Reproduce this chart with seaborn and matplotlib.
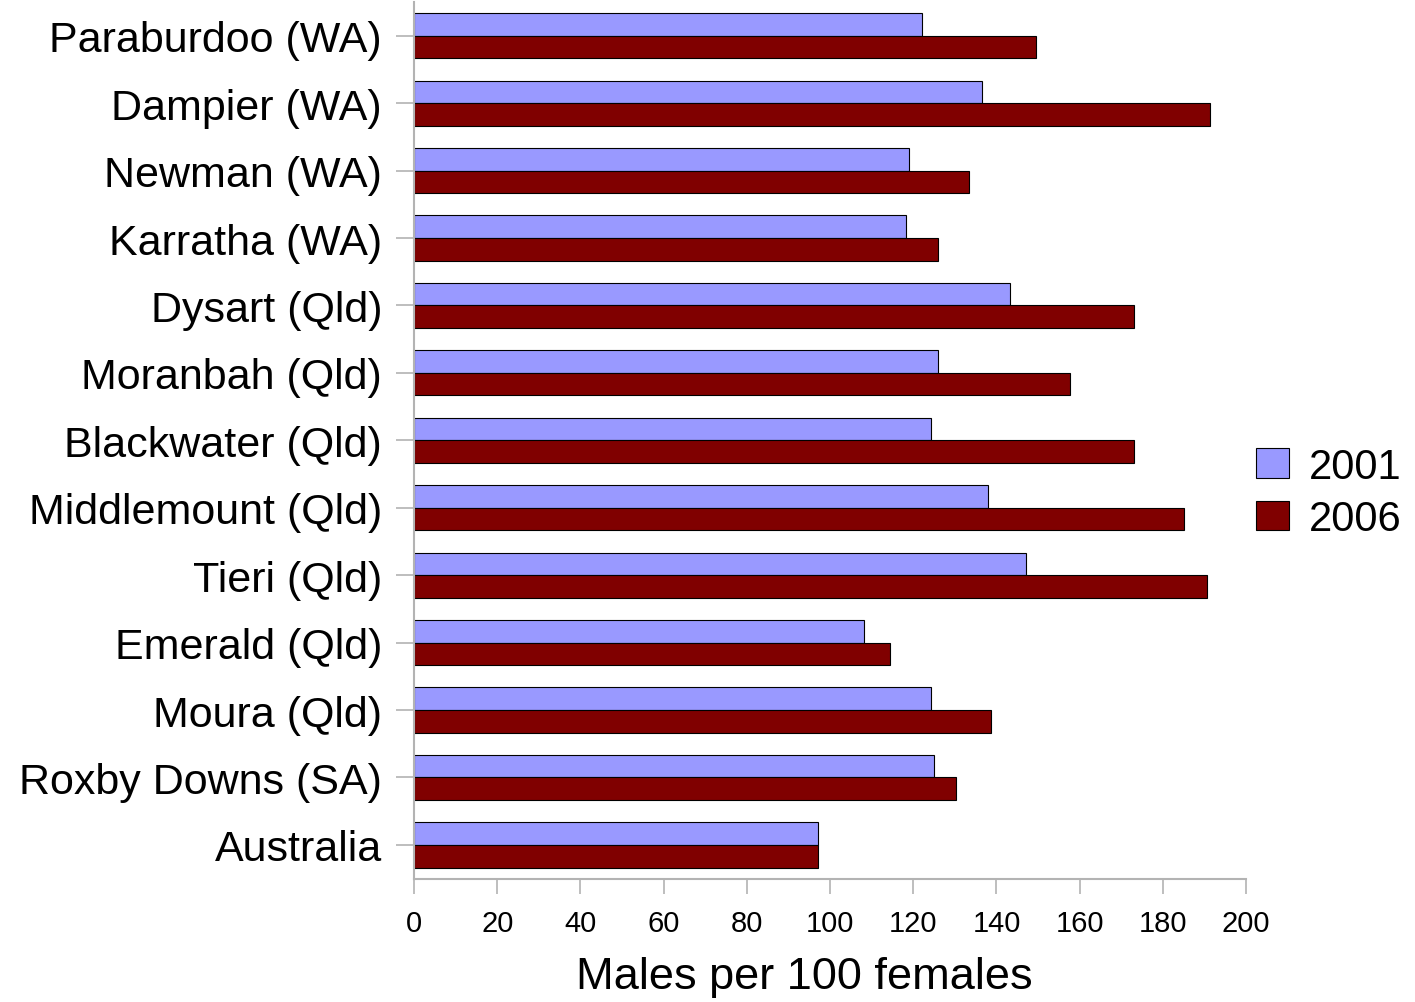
import pandas as pd
import matplotlib.pyplot as plt
import seaborn as sns

towns = ["Paraburdoo (WA)", "Dampier (WA)", "Newman (WA)", "Karratha (WA)",
         "Dysart (Qld)", "Moranbah (Qld)", "Blackwater (Qld)", "Middlemount (Qld)",
         "Tieri (Qld)", "Emerald (Qld)", "Moura (Qld)", "Roxby Downs (SA)", "Australia"]
ratio_2001 = [122, 136.5, 119, 118.3, 143.3, 126, 124.3, 138, 147, 108.2, 124.3, 125, 97]
ratio_2006 = [149.5, 191.3, 133.4, 126, 173, 157.7, 173, 185, 190.5, 114.4, 138.7, 130.3, 97]
years = ["2001", "2006"]

df = pd.DataFrame({
    "town": towns * 2,
    "ratio": ratio_2001 + ratio_2006,
    "year": [years[0]] * len(towns) + [years[1]] * len(towns),
})

sns.set_style("white", rc={"text.color": "black", "axes.labelcolor": "black"})
plt.rcParams['font.family'] = ['Liberation Sans', 'DejaVu Sans']

fig, ax = plt.subplots(figsize=(14.15, 10.03), dpi=100)
fig.subplots_adjust(left=0.2926, right=0.8806, top=0.997, bottom=0.123)

sns.barplot(data=df, y="town", x="ratio", hue="year", orient="h",
            palette=["#9999ff", "#800000"], width=0.67, ax=ax,
            edgecolor="black", linewidth=0.8, saturation=1)

ax.set_xlim(0, 200)
ax.set_ylim(12.5, -0.5)
ax.set_xticks(range(0, 201, 20))
ax.tick_params(axis="x", bottom=True, labelsize=21, length=11, width=1.2,
               color="#b3b3b3", labelcolor="black", pad=11, direction="out")
ax.tick_params(axis="y", left=True, labelsize=31, length=13, width=1.2,
               color="#b3b3b3", labelcolor="black", pad=10, direction="out")
ax.set_ylabel("")
ax.set_xlabel("Males per 100 females", fontsize=32.5, color="black")
ax.xaxis.set_label_coords(0.469, -0.088)

for side in ["top", "right"]:
    ax.spines[side].set_visible(False)
for side in ["left", "bottom"]:
    ax.spines[side].set_color("#b3b3b3")
    ax.spines[side].set_linewidth(1.5)

ax.legend(title=None, fontsize=30, frameon=False, loc="center left",
          bbox_to_anchor=(1.012, 0.44), borderpad=0, borderaxespad=0,
          handlelength=0.78, handleheight=0.72, handletextpad=0.5,
          labelspacing=0.3)

fig.savefig("out.png", dpi=100)
